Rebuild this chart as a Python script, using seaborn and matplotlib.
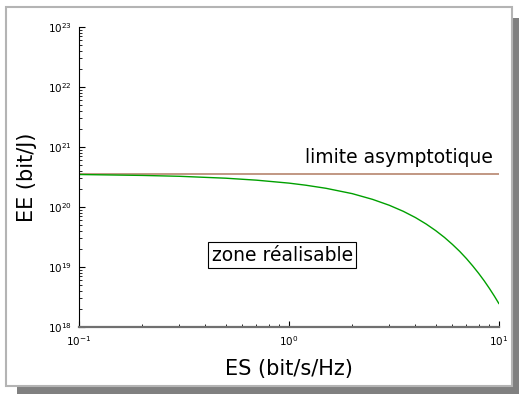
import matplotlib
matplotlib.use("Agg")
import matplotlib.pyplot as plt
from matplotlib.patches import Rectangle
from matplotlib.ticker import LogLocator, LogFormatterSciNotation, NullFormatter
import numpy as np
import pandas as pd
import seaborn as sns

# valeurs
es_values = [0.1, 0.2, 0.3, 0.5, 0.7, 1.0, 1.2, 1.5, 2.0, 2.5, 3.0, 3.5, 4.0, 4.5, 5.0,
             5.5, 6.0, 6.5, 7.0, 7.5, 8.0, 8.5, 9.0, 9.5, 10.0]
ee_values = [3.48e20, 3.36e20, 3.25e20, 3.02e20, 2.80e20, 2.50e20, 2.31e20, 2.05e20,
             1.67e20, 1.34e20, 1.07e20, 8.48e19, 6.67e19, 5.20e19, 4.03e19, 3.11e19,
             2.38e19, 1.82e19, 1.38e19, 1.04e19, 7.84e18, 5.89e18, 4.40e18, 3.28e18, 2.44e18]
limit_es = [0.1, 10.0]
limit_ee = [3.61e20, 3.61e20]

sns.set_style("ticks")
plt.rcParams['font.family'] = ['DejaVu Sans']
plt.rcParams['text.color'] = 'black'
plt.rcParams['axes.labelcolor'] = 'black'
plt.rcParams['xtick.color'] = 'black'
plt.rcParams['ytick.color'] = 'black'

fig = plt.figure(figsize=(5.19, 3.94), dpi=100)

# cadre avec ombre
W, H = 519, 394
fig.patches.append(Rectangle((17 / W, 0), 1, 1 - 18 / H, transform=fig.transFigure,
                             facecolor='#808080', edgecolor='none', zorder=-2))
fig.patches.append(Rectangle((6 / W, 1 - 386 / H), 506 / W, 379 / H, transform=fig.transFigure,
                             facecolor='white', edgecolor='#b4b4b4', linewidth=1.5, zorder=-1))

ax = fig.add_axes([79 / W, 1 - 327 / H, 420 / W, 300 / H])
ax.set_zorder(2)
ax.patch.set_alpha(0)

df_curve = pd.DataFrame({'ES': es_values, 'EE': ee_values})
df_limit = pd.DataFrame({'ES': limit_es, 'EE': limit_ee})
sns.lineplot(data=df_limit, x='ES', y='EE', ax=ax, color='#bc8f7a', linewidth=1.3)
sns.lineplot(data=df_curve, x='ES', y='EE', ax=ax, color='#00a000', linewidth=1.0)

ax.set_xscale('log')
ax.set_yscale('log')
ax.set_xlim(0.1, 10)
ax.set_ylim(1e18, 1e23)

ax.xaxis.set_major_locator(LogLocator(base=10, numticks=10))
ax.xaxis.set_minor_locator(LogLocator(base=10, subs=np.arange(2, 10), numticks=20))
ax.yaxis.set_major_locator(LogLocator(base=10, numticks=10))
ax.yaxis.set_minor_locator(LogLocator(base=10, subs=np.arange(2, 10), numticks=20))
ax.xaxis.set_major_formatter(LogFormatterSciNotation())
ax.yaxis.set_major_formatter(LogFormatterSciNotation())
ax.xaxis.set_minor_formatter(NullFormatter())
ax.yaxis.set_minor_formatter(NullFormatter())

ax.tick_params(which='major', direction='in', length=4, width=0.8, labelsize=7.5, pad=5)
ax.tick_params(which='minor', direction='in', length=2, width=0.6)

for s in ['top', 'right']:
    ax.spines[s].set_visible(False)
ax.spines['left'].set_color('black')
ax.spines['bottom'].set_color('#707070')
ax.spines['bottom'].set_linewidth(1.6)

ax.set_xlabel('ES (bit/s/Hz)', fontsize=15)
ax.set_ylabel('EE (bit/J)', fontsize=15)
ax.xaxis.set_label_coords(0.5, -0.105)
ax.yaxis.set_label_coords(-0.10, 0.5)

ax.text(9.35, 5.4e20, 'limite asymptotique', fontsize=13.5, ha='right', va='baseline')
ax.text(0.927, 1.58e19, 'zone réalisable', fontsize=13.5, ha='center', va='center',
        bbox=dict(boxstyle='square,pad=0.2', facecolor='white', edgecolor='black', linewidth=0.8))

fig.savefig('out.png', dpi=100)
